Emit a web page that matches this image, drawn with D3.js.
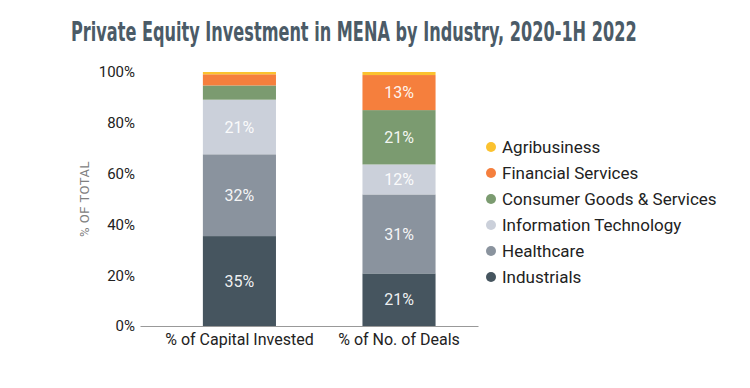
<!DOCTYPE html>
<html><head><meta charset="utf-8">
<script src="https://cdn.jsdelivr.net/npm/d3@7"></script>
<style>body{margin:0;background:#fff;}</style>
</head><body>
<svg id="c" width="750" height="388"></svg>
<script>
const categories = ["% of Capital Invested", "% of No. of Deals"];
const industries = ["Industrials", "Healthcare", "Information Technology", "Consumer Goods & Services", "Financial Services", "Agribusiness"];
const capitalValues = [35.4, 32.2, 21.5, 5.6, 4.4, 0.9];
const dealsValues = [20.7, 31.1, 11.8, 21.4, 13.8, 1.2];
const displayLabels = [["35%", "32%", "21%", "", "", ""], ["21%", "31%", "12%", "21%", "13%", ""]];
const yTicks = [0, 20, 40, 60, 80, 100];
const colors = ["#46555f", "#8a939e", "#cbd0da", "#7b9b70", "#f57f3d", "#fbc22f"];

const svg = d3.select("#c");

const titleG = svg.append("g");
const title = titleG.append("text").attr("x", 0).attr("y", 0)
  .attr("font-family", "'Liberation Sans Narrow', 'DejaVu Sans'").attr("font-weight", "bold")
  .attr("font-stretch", "condensed")
  .attr("font-size", 27).attr("fill", "#4b5b67")
  .text("Private Equity Investment in MENA by Industry, 2020-1H 2022");
const tw = title.node().getComputedTextLength();
titleG.attr("transform", `translate(71,41) scale(${566 / tw},1)`);

const x = d3.scaleBand().domain(categories).range([140, 478])
  .paddingInner(0.542).paddingOuter(0.33).align(0.597);
const y = d3.scaleLinear().domain([0, 100]).range([326, 72]);

const rows = [capitalValues, dealsValues].map((vals, i) => {
  const o = {cat: categories[i]};
  industries.forEach((k, j) => o[k] = vals[j]);
  return o;
});
const stack = d3.stack().keys(industries)(rows);

const g = svg.append("g");
stack.forEach((layer, li) => {
  layer.forEach((d, ci) => {
    g.append("rect").attr("x", x(d.data.cat)).attr("width", x.bandwidth())
      .attr("y", y(d[1])).attr("height", y(d[0]) - y(d[1]))
      .attr("fill", colors[li]);
    const lab = displayLabels[ci][li];
    if (lab) {
      g.append("text").attr("x", x(d.data.cat) + x.bandwidth() / 2)
        .attr("y", (y(d[0]) + y(d[1])) / 2).attr("dy", "0.36em")
        .attr("text-anchor", "middle").attr("font-family", "Roboto").attr("font-size", 16)
        .attr("fill", "#ffffff").attr("fill-opacity", 0.93).text(lab);
    }
  });
});

// y axis
const yAxis = svg.append("g").attr("transform", "translate(140,0)")
  .call(d3.axisLeft(y).tickValues(yTicks).tickFormat(d => d + "%").tickSize(0).tickPadding(5));
yAxis.select(".domain").remove();
yAxis.selectAll("text").attr("font-family", "Roboto").attr("font-size", 15).attr("fill", "#222");

// x axis
const xAxis = svg.append("g").attr("transform", "translate(0,326)")
  .call(d3.axisBottom(x).tickSize(0).tickPadding(8));
xAxis.select(".domain").attr("stroke", "#999").attr("stroke-width", 1.2);
xAxis.selectAll("text").attr("font-family", "Roboto").attr("font-size", 16).attr("fill", "#222");

svg.append("text").attr("transform", "translate(89,199) rotate(-90)")
  .attr("text-anchor", "middle").attr("font-family", "Roboto").attr("font-size", 13)
  .attr("fill", "#808080").attr("letter-spacing", 0.5).text("% OF TOTAL");

// legend
const legendOrder = industries.slice().reverse();
const lg = svg.append("g");
legendOrder.forEach((k, i) => {
  const cy = 147 + i * 26;
  lg.append("circle").attr("cx", 491).attr("cy", cy).attr("r", 5).attr("fill", colors[industries.indexOf(k)]);
  lg.append("text").attr("x", 502).attr("y", cy).attr("dy", "0.36em")
    .attr("font-family", "Roboto").attr("font-size", 17).attr("fill", "#222").text(k);
});
</script>
</body></html>
